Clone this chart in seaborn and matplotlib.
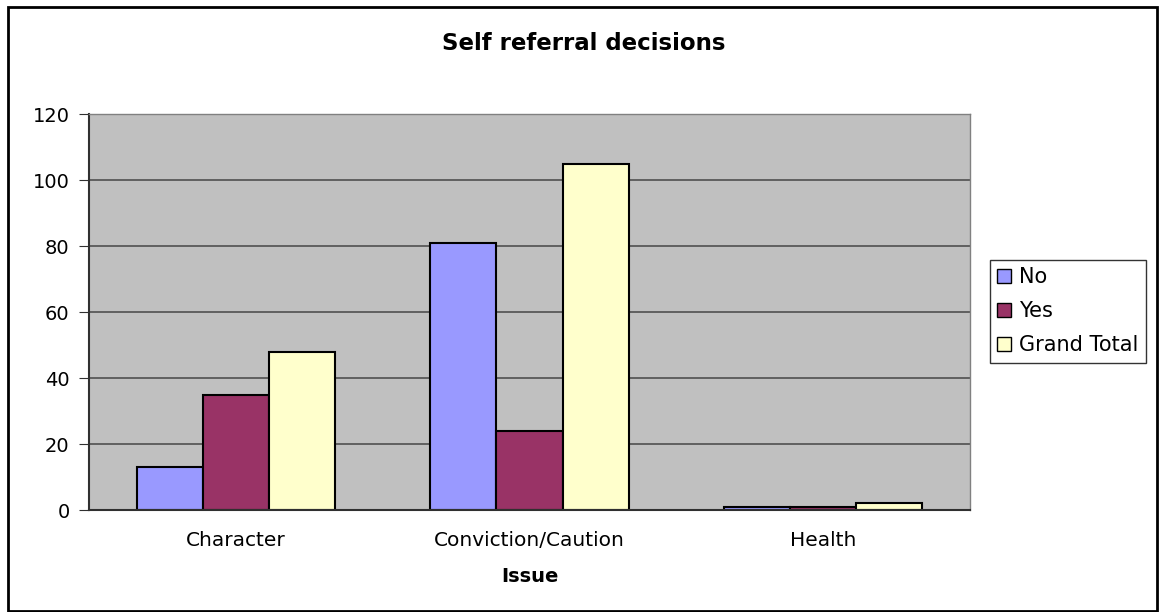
import matplotlib
matplotlib.use("Agg")
import matplotlib.pyplot as plt
import matplotlib.patches as mpatches
import pandas as pd
import seaborn as sns

# values
issues = ["Character", "Conviction/Caution", "Health"]
decisions = ["No", "Yes", "Grand Total"]
no_counts = [13, 81, 1]
yes_counts = [35, 24, 1]
total_counts = [48, 105, 2]
yticks = [0, 20, 40, 60, 80, 100, 120]

colors = {"No": "#9999FF", "Yes": "#993366", "Grand Total": "#FFFFCC"}


def plot():
    df = pd.DataFrame({
        "Issue": issues * 3,
        "Decision": ["No"] * 3 + ["Yes"] * 3 + ["Grand Total"] * 3,
        "Count": no_counts + yes_counts + total_counts,
    })

    sns.set_style("white")
    # the original text is wide Arial, DejaVu gets closer to its width
    plt.rcParams["font.family"] = ["DejaVu Sans"]
    plt.rcParams["text.color"] = "black"
    plt.rcParams["axes.labelcolor"] = "black"
    plt.rcParams["xtick.color"] = "black"
    plt.rcParams["ytick.color"] = "black"

    fig = plt.figure(figsize=(11.61, 6.12), dpi=100)
    ax = fig.add_axes([89 / 1161, 1 - 510 / 612, 881 / 1161, 396 / 612])

    sns.barplot(data=df, x="Issue", y="Count", hue="Decision",
                hue_order=decisions, order=issues, palette=colors,
                width=0.675, edgecolor="black", linewidth=1.5,
                saturation=1, ax=ax, legend=False)

    ax.set_facecolor("#C0C0C0")
    ax.set_ylim(0, 120)
    ax.set_xlim(-0.5, 2.5)
    ax.set_yticks(yticks)
    ax.yaxis.grid(True, color="#505050", linewidth=1.2)
    ax.set_axisbelow(True)
    for side in ["top", "right"]:
        ax.spines[side].set_color("#808080")
        ax.spines[side].set_linewidth(1)
    ax.spines["left"].set_color("#303030")
    ax.spines["left"].set_linewidth(1.5)
    ax.spines["bottom"].set_color("#303030")
    ax.spines["bottom"].set_linewidth(1.5)

    # tick marks between categories like the original
    ax.set_xticks([0, 1, 2])
    ax.set_xticks([-0.5, 0.5, 1.5, 2.5], minor=True)
    ax.tick_params(axis="x", which="major", length=0, labelsize=14.5, pad=15)
    ax.tick_params(axis="x", which="minor", length=5, color="#303030",
                   direction="out")
    ax.tick_params(axis="y", length=7, color="#303030", direction="out",
                   labelsize=14, pad=7, left=True)

    ax.set_xlabel("Issue", fontsize=14, fontweight="bold", labelpad=12)
    ax.set_ylabel("")
    fig.text(584 / 1161, 1 - 44 / 612, "Self referral decisions",
             ha="center", va="center", fontsize=16.5, fontweight="bold")

    handles = [mpatches.Patch(facecolor=colors[d], edgecolor="black",
                              linewidth=1, label=d) for d in decisions]
    leg = fig.legend(handles=handles, loc="upper left",
                     bbox_to_anchor=(990 / 1161, 1 - 260 / 612),
                     frameon=True, fancybox=False, fontsize=15,
                     handlelength=0.67, handleheight=0.67, handletextpad=0.38,
                     labelspacing=0.67, borderpad=0.35, borderaxespad=0)
    leg.get_frame().set_edgecolor("black")
    leg.get_frame().set_linewidth(1)

    # outer chart border
    fig.patches.append(mpatches.Rectangle((8 / 1161, 0.002), 1149 / 1161,
                                          1 - 7 / 612 - 0.002,
                                          transform=fig.transFigure,
                                          fill=False, edgecolor="black",
                                          linewidth=2))
    return fig


if __name__ == "__main__":
    fig = plot()
    fig.savefig("out.png", dpi=100)
